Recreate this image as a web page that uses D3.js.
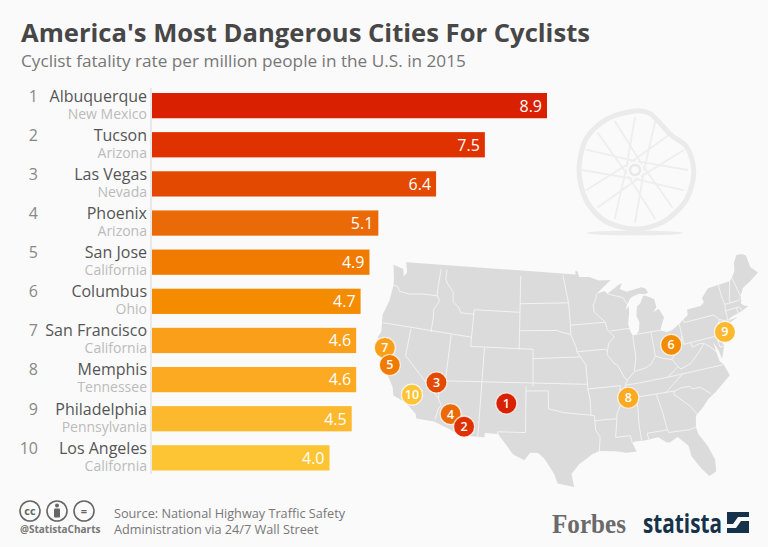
<!DOCTYPE html>
<meta charset="utf-8">
<title>America's Most Dangerous Cities For Cyclists</title>
<script src="https://cdn.jsdelivr.net/npm/d3@7"></script>
<style>
html, body {
    margin: 0;
    background: #fafafa;
}
svg {
    display: block;
}
text {
    font-family: "Open Sans", sans-serif;
}
</style>
<body>
<script>
var ranks = [1, 2, 3, 4, 5, 6, 7, 8, 9, 10];
var cities = ["Albuquerque", "Tucson", "Las Vegas", "Phoenix", "San Jose", "Columbus", "San Francisco", "Memphis", "Philadelphia", "Los Angeles"];
var states = ["New Mexico", "Arizona", "Nevada", "Arizona", "California", "Ohio", "California", "Tennessee", "Pennsylvania", "California"];
var rates = [8.9, 7.5, 6.4, 5.1, 4.9, 4.7, 4.6, 4.6, 4.5, 4.0];
var barColors = ["#d92000", "#e03200", "#e34a00", "#ea6a08", "#f07b00", "#f58c00", "#fa9f1a", "#fbaa22", "#fcb92e", "#fdc534"];
// where the pins sit on the map, nudged off the true city to match the picture
var cityLonLat = [[-105.6, 35.1], [-110.9, 32.3], [-115.2, 36.7], [-112.8, 33.5], [-121.9, 37.7], [-82.3, 39.96], [-123.1, 39.4], [-89.35, 35.1], [-74.45, 39.9], [-118.2, 35.0]];

// lower 48, lon/lat, simplified by hand
var outline = [[-124.7,48.4],[-123,48.2],[-122.7,47.4],[-122.3,47.9],[-122.8,49],[-95.15,49],[-95.15,49.4],[-94.8,49.3],[-94.6,48.7],[-93,48.6],[-91.5,48.1],[-89.6,48],[-92.1,46.7],[-90.8,46.9],[-90.4,46.55],[-88.4,47.4],[-87.9,47.47],[-88.4,46.9],[-87.4,46.5],[-85,46.7],[-84.4,46.5],[-84.1,46],[-84.7,45.9],[-85.5,46.05],[-86.5,45.9],[-87,45.7],[-87.6,45.1],[-88,44.55],[-87.4,44.9],[-87.5,44.2],[-87.9,43],[-87.8,42.3],[-87.5,41.7],[-87,41.7],[-86.5,42.1],[-86.2,43],[-86.5,43.7],[-86.2,44.7],[-85.6,45],[-85,45.7],[-84.7,45.75],[-83.4,45.2],[-83.3,44.3],[-83.9,43.8],[-83,44.05],[-82.5,43],[-83.1,42.2],[-83.4,41.7],[-82.5,41.4],[-81.7,41.5],[-80.5,42],[-79,42.7],[-78.9,43.3],[-76.8,43.3],[-76.2,43.6],[-76.3,44.1],[-75,44.95],[-71.5,45],[-71,45.3],[-70.3,45.9],[-70,46.7],[-69.2,47.45],[-68.3,47.35],[-67.8,47.05],[-67.8,45.7],[-67,44.85],[-68.5,44.3],[-70,43.8],[-70.7,43.05],[-70.8,42.6],[-71,42.3],[-70.6,41.95],[-70.1,41.8],[-71.2,41.5],[-72.9,41.25],[-73.7,40.95],[-72,41.05],[-74,40.55],[-74,40],[-74.9,38.95],[-75.5,39.5],[-75.1,38.5],[-75.9,37.15],[-76,38],[-76.4,39.2],[-76.4,38],[-76.3,37],[-75.9,36.6],[-75.5,35.25],[-76.6,34.65],[-77.9,33.9],[-79,33.4],[-80,32.6],[-81.1,31.9],[-81.4,30.7],[-81.3,29.9],[-80.5,28.4],[-80,26.8],[-80.2,25.5],[-81.1,25.15],[-81.8,26.1],[-82.7,27.7],[-82.8,28.9],[-83.9,30.05],[-85,29.6],[-85.4,29.7],[-86.3,30.4],[-88,30.25],[-89.3,30.3],[-89.6,30.15],[-89.2,29.2],[-90.5,29.2],[-91.8,29.5],[-93.8,29.7],[-94.7,29.4],[-96.4,28.4],[-97.4,27.4],[-97.15,25.95],[-99.1,26.4],[-99.5,27.5],[-100.6,29.1],[-101.4,29.77],[-102.4,29.8],[-103.1,29],[-104.5,29.6],[-106.5,31.75],[-108.2,31.78],[-108.2,31.33],[-111.07,31.33],[-114.8,32.5],[-117.12,32.53],[-117.3,33],[-118.4,33.75],[-119.2,34.15],[-120.6,34.55],[-120.9,35.4],[-121.9,36.6],[-122.5,37.5],[-123,38],[-123.8,39.3],[-124.4,40.4],[-124.1,41],[-124.4,42.3],[-124.5,42.85],[-124,44.5],[-123.95,46.2],[-124.1,46.9],[-124.7,48.4]];

var borders = [
    [[-124,46.25],[-123.2,46.15],[-122.8,45.7],[-121.2,45.65],[-119.3,45.93],[-116.92,46]],
    [[-117.03,49],[-117.04,46.4],[-116.92,46],[-116.5,45.5],[-117.2,44.4],[-117.03,43.8],[-117.03,42]],
    [[-124.2,42],[-111.05,42]],
    [[-120,42],[-120,39],[-114.63,35]],
    [[-114.04,37],[-114.04,36.2],[-114.75,36.1],[-114.63,35],[-114.15,34.3],[-114.5,33.9],[-114.72,32.72]],
    [[-114.04,42],[-114.04,37]],
    [[-111.05,41],[-102.05,41]],
    [[-114.04,37],[-94.62,37]],
    [[-109.05,41],[-109.05,31.33]],
    [[-111.05,45],[-111.05,41]],
    [[-104.05,49],[-104.05,41]],
    [[-116.05,49],[-116.05,48],[-115.7,47.5],[-114.6,46.65],[-114.4,45.6],[-113.5,45.1],[-113,44.5],[-111.05,44.5]],
    [[-111.05,45],[-104.05,45]],
    [[-104.05,45.94],[-96.56,45.94]],
    [[-104.05,43],[-98.5,43],[-97.9,42.8],[-96.5,42.5]],
    [[-102.05,41],[-102.05,37]],
    [[-102.05,40],[-95.3,40]],
    [[-103,37],[-103,32],[-106.6,32],[-106.5,31.75]],
    [[-103,36.5],[-100,36.5],[-100,34.56],[-98,34.1],[-96,33.85],[-94.48,33.64]],
    [[-94.62,36.5],[-94.43,35.4],[-94.48,33.64],[-94.04,33.55],[-94.04,32],[-93.55,31.2],[-93.8,29.7]],
    [[-94.04,33.02],[-91.17,33]],
    [[-95.77,40.58],[-91.73,40.6],[-91.4,40.4]],
    [[-95.3,40],[-94.62,39.1],[-94.62,36.5],[-90.15,36.5],[-90.37,36],[-89.7,36]],
    [[-96.45,43.5],[-91.22,43.5]],
    [[-97.2,49],[-96.56,45.94],[-96.45,43.5],[-96.5,42.5],[-95.8,41],[-95.77,40.58],[-95.3,40]],
    [[-92.1,46.7],[-92.3,46.1],[-92.8,45.5],[-92.75,44.75],[-91.22,43.5],[-91.1,42.7],[-90.2,41.8],[-91.1,41.2],[-91.4,40.4],[-91.5,40],[-90.7,39],[-90.2,38.7],[-89.5,37.3],[-89.15,37],[-89.5,36.5],[-89.7,36],[-90.1,35],[-91.1,33.5],[-91.17,33],[-91.6,31],[-89.73,31],[-89.6,30.15]],
    [[-90.64,42.5],[-87.8,42.5]],
    [[-90.4,46.55],[-88.1,45.9],[-87.6,45.1]],
    [[-87.5,41.7],[-87.53,39.3],[-88.05,37.8]],
    [[-89.15,37],[-88.05,37.8],[-86.5,38],[-85.6,38.3],[-84.8,39.1],[-83.7,38.65],[-82.6,38.4],[-81.7,39.2],[-80.85,39.7],[-80.52,40.64]],
    [[-84.8,41.7],[-84.8,39.1]],
    [[-87,41.76],[-83.4,41.73]],
    [[-80.52,42],[-80.52,39.72]],
    [[-79.76,42.27],[-79.76,42],[-75.35,42],[-74.7,41.36],[-75.1,40.9],[-74.75,40.2],[-75.5,39.7]],
    [[-74.7,41.36],[-73.9,41]],
    [[-80.52,39.72],[-75.79,39.72],[-75.7,38.46],[-75.05,38.45]],
    [[-79.48,39.72],[-79.48,39.2],[-78.35,39.4],[-77.75,39.3],[-78.9,38.4],[-80.3,37.5],[-81.7,37.2],[-82,37.5],[-83.68,36.6]],
    [[-82.6,38.4],[-82,37.5]],
    [[-77.75,39.3],[-77.05,38.8],[-76.3,38]],
    [[-89.5,36.5],[-88.05,36.5],[-83.68,36.6],[-75.9,36.55]],
    [[-90.1,35],[-83.1,35]],
    [[-84.32,35],[-83.1,35.75],[-81.68,36.59]],
    [[-88.2,35],[-88.45,31.9],[-88.4,30.3]],
    [[-85.6,35],[-85.18,32.85],[-85,31],[-84.86,30.7],[-82.2,30.57],[-81.45,30.7]],
    [[-87.6,31],[-85,31]],
    [[-87.6,31],[-87.5,30.3]],
    [[-83.1,35],[-82.3,35.2],[-81,35.15],[-80.8,34.82],[-79.67,34.8],[-78.55,33.86]],
    [[-83.1,35],[-83.35,34.7],[-81.5,33],[-80.9,32.05]],
    [[-73.35,45],[-73.4,43.6],[-73.27,42.75],[-73.5,42.05],[-73.5,41.3],[-73.7,41]],
    [[-71.5,45],[-72.45,43.1],[-72.46,42.73]],
    [[-73.27,42.75],[-71.3,42.7],[-70.8,42.87]],
    [[-73.5,42.05],[-71.38,42.02],[-71.15,41.5]],
    [[-71.8,42.02],[-71.85,41.32]],
    [[-71.05,45.3],[-70.7,43.1]]
];

var width = 768,
    height = 547,
    labelX = 147,
    barX = 152;

var svg = d3.select("body").append("svg")
    .attr("width", width)
    .attr("height", height);

svg.append("text")
    .attr("x", 21).attr("y", 42)
    .attr("font-size", 25.6).attr("font-weight", 700).attr("fill", "#474747")
    .text("America's Most Dangerous Cities For Cyclists");

svg.append("text")
    .attr("x", 21).attr("y", 67)
    .attr("font-size", 17.2).attr("fill", "#777")
    .text("Cyclist fatality rate per million people in the U.S. in 2015");

// wheel
var wheel = svg.append("g").attr("transform", "translate(635,170)");

wheel.append("ellipse")
    .attr("cx", 0).attr("cy", 63).attr("rx", 48).attr("ry", 2.5)
    .attr("fill", "#ebebeb");

d3.range(0, 16).forEach(function(i) {
    var a = i * Math.PI / 8,
        a2 = a + (i % 2 ? 1.25 : -1.25);
    wheel.append("line")
        .attr("x1", 9 * Math.cos(a2)).attr("y1", 9 * Math.sin(a2))
        .attr("x2", 53 * Math.cos(a)).attr("y2", 53 * Math.sin(a))
        .attr("stroke", "#eeeeee").attr("stroke-width", 1.8);
});

var rim = d3.line().curve(d3.curveCardinalClosed.tension(0.1));
var rimPoints = [[-56,0],[-49,-31],[-28,-51],[0,-59],[14,-57],[24,-48],[36,-35],[51,-24],[58,-6],[58,10],[50,32],[28,52],[0,59],[-30,51],[-49,30]];
wheel.append("path")
    .attr("d", rim(rimPoints))
    .attr("fill", "none").attr("stroke", "#ebebeb").attr("stroke-width", 5);
wheel.append("circle").attr("r", 5).attr("fill", "#fafafa").attr("stroke", "#e8e8e8").attr("stroke-width", 2.5);

// map: conic projection, then stretched onto the box the map fills
var conic = d3.geoConicEqualArea()
    .parallels([29.5, 45.5])
    .rotate([102, 0]);

var mapX = d3.scaleLinear()
    .domain(d3.extent(outline, function(p) { return conic(p)[0]; }))
    .range([378, 758]);
var mapY = d3.scaleLinear()
    .domain(d3.extent(outline, function(p) { return conic(p)[1]; }))
    .range([254, 487]);

function project(p) {
    var q = conic(p);
    return [mapX(q[0]), mapY(q[1])];
}

var flat = function(pts) {
    return d3.line()(pts.map(project));
};

svg.append("path")
    .attr("d", flat(outline) + "Z")
    .attr("fill", "#dbdbdb");

svg.append("path")
    .attr("d", borders.map(flat).join(""))
    .attr("fill", "none").attr("stroke", "#f5f5f5").attr("stroke-width", 0.9);

// bars
var x = d3.scaleLinear().domain([0, 8.9]).range([barX, 547]);
var y = d3.scaleBand().domain(cities).range([93, 470.5]).paddingInner(0.355);

svg.append("line")
    .attr("x1", 151).attr("x2", 151).attr("y1", 88).attr("y2", 474)
    .attr("stroke", "#d8d8d8");

var rows = svg.selectAll("g.row")
    .data(cities)
    .enter().append("g")
    .attr("class", "row")
    .attr("transform", function(d) { return "translate(0," + y(d) + ")"; });

rows.append("rect")
    .attr("x", barX)
    .attr("width", function(d, i) { return x(rates[i]) - barX; })
    .attr("height", y.bandwidth())
    .attr("fill", function(d, i) { return barColors[i]; });

rows.append("text")
    .attr("x", function(d, i) { return x(rates[i]) - 5; })
    .attr("y", 18.5)
    .attr("text-anchor", "end")
    .attr("font-size", 16).attr("fill", "#fff")
    .text(function(d, i) { return rates[i].toFixed(1); });

rows.append("text")
    .attr("x", labelX).attr("y", 8.5)
    .attr("text-anchor", "end")
    .attr("font-size", 16).attr("fill", "#555")
    .text(function(d) { return d; });

rows.append("text")
    .attr("x", labelX).attr("y", 25.5)
    .attr("text-anchor", "end")
    .attr("font-size", 14).attr("fill", "#bbb")
    .text(function(d, i) { return states[i]; });

rows.append("text")
    .attr("x", 38).attr("y", 8.5)
    .attr("text-anchor", "end")
    .attr("font-size", 16).attr("fill", "#888")
    .text(function(d, i) { return ranks[i]; });

// markers, last rank first so low ranks sit on top
var markers = svg.selectAll("g.marker")
    .data(d3.range(cities.length).reverse())
    .enter().append("g")
    .attr("class", "marker")
    .attr("transform", function(i) { return "translate(" + project(cityLonLat[i]) + ")"; });

markers.append("circle")
    .attr("r", 10.5)
    .attr("fill", function(i) { return barColors[i]; })
    .attr("stroke", "#fff").attr("stroke-opacity", 0.75).attr("stroke-width", 1.2);

markers.append("text")
    .attr("y", 4.5)
    .attr("text-anchor", "middle")
    .attr("font-size", 12.5).attr("font-weight", 600).attr("fill", "#fff")
    .text(function(i) { return ranks[i]; });

// footer
var ccIcons = ["cc", "", "="];
var foot = svg.selectAll("g.cc")
    .data(ccIcons)
    .enter().append("g")
    .attr("class", "cc")
    .attr("transform", function(d, i) { return "translate(" + (30 + i * 27) + ",511)"; });

foot.append("circle")
    .attr("r", 10).attr("fill", "none").attr("stroke", "#666").attr("stroke-width", 1.6);

foot.append("text")
    .attr("y", 4)
    .attr("text-anchor", "middle")
    .attr("font-size", 11).attr("font-weight", 700).attr("fill", "#666")
    .text(function(d) { return d; });

// person in the middle icon
svg.append("circle").attr("cx", 57).attr("cy", 505.5).attr("r", 2).attr("fill", "#666");
svg.append("rect").attr("x", 54).attr("y", 508.5).attr("width", 6).attr("height", 9).attr("rx", 1).attr("fill", "#666");

svg.append("text")
    .attr("x", 20).attr("y", 533)
    .attr("font-size", 10).attr("font-weight", 700).attr("fill", "#777")
    .text("@StatistaCharts");

svg.append("text")
    .attr("x", 114).attr("y", 518)
    .attr("font-size", 12.7).attr("fill", "#777")
    .text("Source: National Highway Traffic Safety");

svg.append("text")
    .attr("x", 114).attr("y", 534)
    .attr("font-size", 12.7).attr("fill", "#777")
    .text("Administration via 24/7 Wall Street");

svg.append("text")
    .attr("x", 552).attr("y", 533)
    .attr("font-size", 27).attr("font-weight", 700).attr("fill", "#6a6a6a")
    .style("font-family", "'Liberation Serif', serif")
    .attr("textLength", 74).attr("lengthAdjust", "spacingAndGlyphs")
    .text("Forbes");

svg.append("text")
    .attr("x", 643).attr("y", 533)
    .attr("font-size", 27).attr("font-weight", 700).attr("fill", "#16324a")
    .attr("textLength", 79).attr("lengthAdjust", "spacingAndGlyphs")
    .text("statista");

svg.append("rect")
    .attr("x", 727).attr("y", 512).attr("width", 22).attr("height", 21)
    .attr("fill", "#16324a");

svg.append("path")
    .attr("d", "M727,524 L733,524 L738,517 L749,517 L749,521 L741,521 L736,528 L727,528Z")
    .attr("fill", "#fafafa");
</script>
</body>
